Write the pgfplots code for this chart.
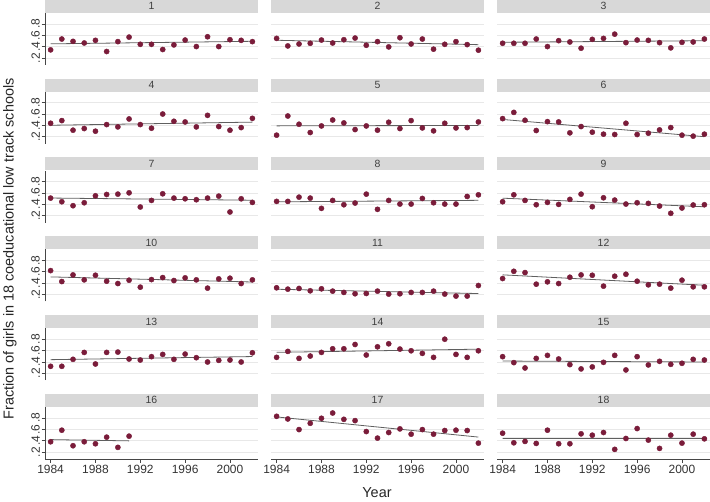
\documentclass[border=0pt]{standalone}
\usepackage{fontspec}
\setmainfont{Liberation Sans}
\usepackage{pgfplots}
\usepackage{pgfplotstable}
\pgfplotsset{compat=1.18}
\definecolor{mk}{RGB}{122,28,58}
\definecolor{hdr}{RGB}{216,216,216}
\definecolor{grd}{RGB}{232,232,232}
\definecolor{fitc}{RGB}{95,95,95}
\definecolor{axc}{RGB}{70,70,70}

\pgfplotstableread{
year p1 p2 p3 p4 p5 p6 p7 p8 p9 p10 p11 p12 p13 p14 p15 p17 p18
1984 0.344 0.546 0.460 0.439 0.229 0.521 0.509 0.451 0.445 0.620 0.317 0.480 0.322 0.480 0.492 0.830 0.532
1985 0.535 0.413 0.460 0.486 0.567 0.631 0.445 0.451 0.567 0.427 0.293 0.608 0.322 0.585 0.387 0.783 0.363
1986 0.494 0.448 0.460 0.317 0.422 0.492 0.375 0.526 0.468 0.544 0.305 0.585 0.445 0.462 0.293 0.596 0.387
1987 0.465 0.460 0.535 0.346 0.276 0.311 0.427 0.509 0.392 0.457 0.264 0.381 0.567 0.503 0.462 0.707 0.352
1988 0.512 0.517 0.402 0.299 0.392 0.468 0.550 0.328 0.433 0.538 0.299 0.422 0.363 0.567 0.515 0.795 0.585
1989 0.315 0.465 0.506 0.416 0.497 0.462 0.573 0.468 0.398 0.433 0.258 0.392 0.567 0.631 0.451 0.888 0.346
1990 0.489 0.523 0.483 0.375 0.445 0.270 0.579 0.392 0.486 0.392 0.235 0.503 0.573 0.631 0.352 0.777 0.346
1991 0.569 0.552 0.373 0.515 0.328 0.381 0.602 0.422 0.579 0.451 0.212 0.544 0.451 0.707 0.276 0.754 0.521
1992 0.442 0.425 0.529 0.416 0.392 0.282 0.352 0.579 0.357 0.328 0.217 0.538 0.433 0.521 0.311 0.561 0.497
1993 0.442 0.489 0.546 0.352 0.317 0.247 0.468 0.311 0.515 0.462 0.258 0.346 0.492 0.666 0.392 0.445 0.544
1994 0.350 0.396 0.621 0.602 0.457 0.241 0.585 0.468 0.474 0.497 0.206 0.521 0.532 0.719 0.515 0.544 0.247
1995 0.431 0.558 0.471 0.474 0.346 0.439 0.509 0.404 0.404 0.445 0.212 0.556 0.445 0.626 0.258 0.608 0.439
1996 0.517 0.448 0.517 0.462 0.486 0.241 0.497 0.404 0.427 0.492 0.235 0.433 0.538 0.596 0.492 0.515 0.614
1997 0.402 0.535 0.512 0.375 0.357 0.264 0.480 0.503 0.416 0.457 0.235 0.369 0.474 0.550 0.346 0.596 0.410
1998 0.575 0.356 0.471 0.579 0.305 0.322 0.509 0.427 0.369 0.311 0.258 0.381 0.398 0.480 0.410 0.515 0.264
1999 0.402 0.442 0.379 0.381 0.439 0.363 0.544 0.404 0.241 0.474 0.206 0.311 0.427 0.800 0.357 0.579 0.497
2000 0.523 0.489 0.477 0.317 0.357 0.229 0.264 0.404 0.334 0.486 0.171 0.451 0.433 0.532 0.375 0.585 0.357
2001 0.512 0.437 0.483 0.363 0.363 0.212 0.497 0.538 0.387 0.392 0.171 0.334 0.398 0.480 0.445 0.579 0.515
2002 0.489 0.338 0.535 0.526 0.462 0.247 0.433 0.567 0.392 0.457 0.357 0.334 0.561 0.596 0.433 0.357 0.433
}\data

\pgfplotstableread{
year p16
1984 0.381
1985 0.585
1986 0.311
1987 0.381
1988 0.346
1989 0.462
1990 0.282
1991 0.480
}\datasixteen

\pgfplotsset{
  panel/.style={
    scale only axis, width=213bp, height=52bp, anchor=north west,
    xmin=1983.5, xmax=2002.5, ymin=0.077, ymax=0.994,
    axis x line*=bottom, axis y line*=left,
    x axis line style={draw=none}, y axis line style={draw=none},
    xtick=\empty,
    ytick={0.2,0.4,0.6,0.8}, yticklabels={},
    ytick style={draw=none},
    ymajorgrids, grid style={grd, line width=0.7bp},
    major tick length=3.5bp, tick align=outside,
    clip=false,
    /pgf/number format/assume math mode=true,
    ticklabel style={font=\fontsize{12}{12}\selectfont, text=black!80},
  },
  leftcol/.style={
    y axis line style={draw=axc, line width=0.7bp},
    yticklabels={.2,.4,.6,.8},
    ytick style={draw=axc, line width=0.7bp},
    yticklabel style={rotate=90, anchor=south, inner sep=1.5bp},
  },
  bottomrow/.style={
    x axis line style={draw=axc, line width=0.7bp},
    xtick={1984,1988,1992,1996,2000},
    xticklabel style={/pgf/number format/set thousands separator={}, inner sep=2bp},
    xtick style={draw=axc, line width=0.7bp},
  },
}

\newcommand{\panel}[6]{%
\begin{axis}[panel, at={({45bp+226bp*#2},{-13bp-78.8bp*#3})}, #4]
  \addplot[only marks, mark=*, mark size=2.6bp, mk, mark options={draw=mk, fill=mk}] table[x=year, y=#5] {#6};
  \addplot[fitc, line width=0.8bp, no marks] table[x=year, y={create col/linear regression={y=#5}}] {#6};
  \node[fill=hdr, anchor=south, minimum width=213bp, minimum height=13bp, inner sep=0pt,
        font=\fontsize{10.5}{10.5}\selectfont, text=black!75] at (rel axis cs:0.5,1) {#1};
\end{axis}}

\begin{document}
\begin{tikzpicture}
\path[use as bounding box] (0,0) rectangle (710bp,-502bp);
\panel{1}{0}{0}{leftcol}{p1}{\data}
\panel{2}{1}{0}{}{p2}{\data}
\panel{3}{2}{0}{}{p3}{\data}
\panel{4}{0}{1}{leftcol}{p4}{\data}
\panel{5}{1}{1}{}{p5}{\data}
\panel{6}{2}{1}{}{p6}{\data}
\panel{7}{0}{2}{leftcol}{p7}{\data}
\panel{8}{1}{2}{}{p8}{\data}
\panel{9}{2}{2}{}{p9}{\data}
\panel{10}{0}{3}{leftcol}{p10}{\data}
\panel{11}{1}{3}{}{p11}{\data}
\panel{12}{2}{3}{}{p12}{\data}
\panel{13}{0}{4}{leftcol}{p13}{\data}
\panel{14}{1}{4}{}{p14}{\data}
\panel{15}{2}{4}{}{p15}{\data}
\panel{16}{0}{5}{leftcol,bottomrow}{p16}{\datasixteen}
\panel{17}{1}{5}{bottomrow}{p17}{\data}
\panel{18}{2}{5}{bottomrow}{p18}{\data}
\node[rotate=90, font=\fontsize{14.5}{14.5}\selectfont, text=black!85] at (10bp,-249bp) {Fraction of girls in 18 coeducational low track schools};
\node[font=\fontsize{14.5}{14.5}\selectfont, text=black!85] at (377bp,-493bp) {Year};
\end{tikzpicture}
\end{document}
